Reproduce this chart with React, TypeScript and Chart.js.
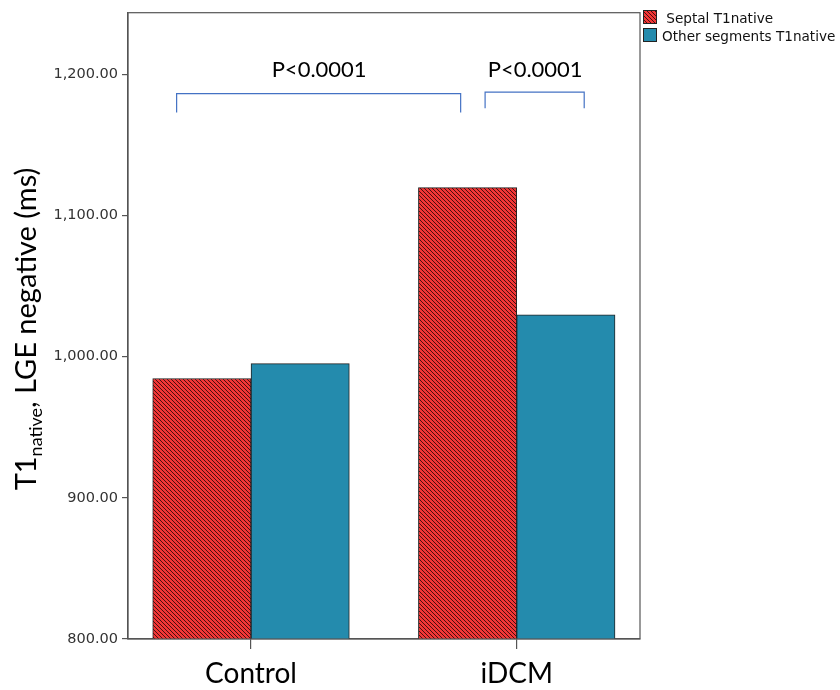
import React, { useEffect, useRef } from 'react';
import { Chart, registerables } from 'chart.js';
Chart.register(...registerables);

const categories = ['Control', 'iDCM'];
const seriesLabels = ['Septal T1native', 'Other segments T1native'];
const septalT1 = [984.5, 1119.7];
const otherT1 = [995.0, 1029.6];
const yTicks = [800, 900, 1000, 1100, 1200];
const pLabels = ['P<0.0001', 'P<0.0001'];
// brackets in data units
const bracketX1 = [-0.28, 0.881];
const bracketX2 = [0.789, 1.254];
const bracketTop = [1186.3, 1187.4];
const bracketBottom = [1173.0, 1176.0];
const pLabelY = [1198, 1198];

function makeHatch(): CanvasPattern | string {
  const c = document.createElement('canvas');
  c.width = 4;
  c.height = 4;
  const g = c.getContext('2d');
  if (!g) return '#E53030';
  g.fillStyle = '#F23636';
  g.fillRect(0, 0, 4, 4);
  g.strokeStyle = '#2a0808';
  g.lineWidth = 0.85;
  g.beginPath();
  g.moveTo(-1, -1); g.lineTo(5, 5);
  g.moveTo(-1, 3); g.lineTo(1, 5);
  g.moveTo(3, -1); g.lineTo(5, 1);
  g.stroke();
  const p = g.createPattern(c, 'repeat');
  return p || '#E53030';
}

const BLUE = '#248BAD';

export default function App() {
  const ref = useRef<HTMLCanvasElement | null>(null);
  useEffect(() => {
    if (!ref.current) return;
    const hatch = makeHatch();

    const overlay = {
      id: 'overlay',
      afterDraw(chart: any) {
        const ctx = chart.ctx;
        const ca = chart.chartArea;
        const xs = chart.scales.x;
        const ys = chart.scales.y;
        ctx.save();
        // frame
        ctx.strokeStyle = '#555';
        ctx.lineWidth = 1.2;
        ctx.strokeRect(ca.left, ca.top, ca.right - ca.left, ca.bottom - ca.top);
        // brackets
        ctx.strokeStyle = '#4472C4';
        ctx.lineWidth = 1.2;
        for (let i = 0; i < pLabels.length; i++) {
          const x1 = xs.getPixelForValue(bracketX1[i]);
          const x2 = xs.getPixelForValue(bracketX2[i]);
          const yt = ys.getPixelForValue(bracketTop[i]);
          const yb = ys.getPixelForValue(bracketBottom[i]);
          ctx.beginPath();
          ctx.moveTo(x1, yb);
          ctx.lineTo(x1, yt);
          ctx.lineTo(x2, yt);
          ctx.lineTo(x2, yb);
          ctx.stroke();
          ctx.fillStyle = '#000';
          ctx.font = '22px Lato';
          ctx.textAlign = 'center';
          ctx.textBaseline = 'alphabetic';
          ctx.fillText(pLabels[i], (x1 + x2) / 2 + 0.5, ys.getPixelForValue(pLabelY[i]));
        }
        // legend
        const lx = 643;
        const fills = [hatch, BLUE];
        for (let i = 0; i < seriesLabels.length; i++) {
          const ly = 10 + i * 18;
          ctx.fillStyle = fills[i] as any;
          ctx.fillRect(lx, ly, 14, 14);
          ctx.strokeStyle = '#222';
          ctx.lineWidth = 1;
          ctx.strokeRect(lx + 0.5, ly + 0.5, 13, 13);
          ctx.fillStyle = '#111';
          ctx.font = '13.6px "DejaVu Sans"';
          ctx.textAlign = 'left';
          ctx.textBaseline = 'alphabetic';
          ctx.fillText(i === 0 ? ' ' + seriesLabels[i] : seriesLabels[i], lx + 19, ly + 13);
        }
        // y title with subscript
        const main = '29px Lato';
        const sub = '18px Lato';
        const p1 = 'T1';
        const p2 = 'native';
        const p3 = ', LGE negative (ms)';
        ctx.font = main;
        const w1 = ctx.measureText(p1).width;
        const w3 = ctx.measureText(p3).width;
        ctx.font = sub;
        const w2 = ctx.measureText(p2).width;
        const total = w1 + w2 + w3;
        ctx.translate(36, 329);
        ctx.rotate(-Math.PI / 2);
        ctx.fillStyle = '#000';
        ctx.textAlign = 'left';
        ctx.textBaseline = 'alphabetic';
        let cx = -total / 2;
        ctx.font = main;
        ctx.fillText(p1, cx, 0);
        cx += w1;
        ctx.font = sub;
        ctx.fillText(p2, cx, 6);
        cx += w2;
        ctx.font = main;
        ctx.fillText(p3, cx, 0);
        ctx.restore();
      },
    };

    const chart = new Chart(ref.current, {
      type: 'bar',
      data: {
        datasets: [
          {
            label: seriesLabels[0],
            data: septalT1.map((v, i) => ({ x: i, y: v })),
            backgroundColor: hatch as any,
            borderColor: '#222',
            borderWidth: 1,
            barThickness: 98.3,
          },
          {
            label: seriesLabels[1],
            data: otherT1.map((v, i) => ({ x: i, y: v })),
            backgroundColor: BLUE,
            borderColor: '#222',
            borderWidth: 1,
            barThickness: 98.3,
          },
        ],
      },
      options: {
        responsive: false,
        animation: false,
        layout: { padding: { left: 0, right: 200, top: 9, bottom: 0 } },
        plugins: { legend: { display: false }, tooltip: { enabled: false } },
        scales: {
          x: {
            type: 'linear',
            offset: false,
            min: -0.463,
            max: 1.464,
            afterBuildTicks: (s: any) => {
              s.ticks = categories.map((_, i) => ({ value: i }));
            },
            afterFit: (s: any) => {
              s.height = 51;
            },
            ticks: {
              callback: (v: any) => categories[v] ?? '',
              font: { family: 'Lato', size: 28 },
              color: '#000',
              padding: 8,
              maxRotation: 0,
              autoSkip: false,
            },
            grid: { offset: false, drawOnChartArea: false, tickLength: 10, color: '#555', lineWidth: 1.2 },
            border: { display: true, color: '#555', width: 1.2 },
          },
          y: {
            min: 800,
            max: 1243.6,
            afterBuildTicks: (s: any) => {
              s.ticks = yTicks.map((v) => ({ value: v }));
            },
            afterFit: (s: any) => {
              s.width = 128;
            },
            ticks: {
              callback: (v: any) =>
                Number(v).toLocaleString('en-US', { minimumFractionDigits: 2, maximumFractionDigits: 2 }),
              font: { family: 'DejaVu Sans', size: 14.5 },
              color: '#333',
              padding: 4,
            },
            grid: { drawOnChartArea: false, tickLength: 6, color: '#555', lineWidth: 1.2 },
            border: { display: true, color: '#555', width: 1.2 },
          },
        },
      },
      plugins: [overlay],
    });
    return () => chart.destroy();
  }, []);

  return (
    <div style={{ position: 'fixed', left: 0, top: 0, width: 840, height: 690, background: '#fff' }}>
      <canvas ref={ref} width={840} height={690} style={{ width: 840, height: 690 }} />
    </div>
  );
}
